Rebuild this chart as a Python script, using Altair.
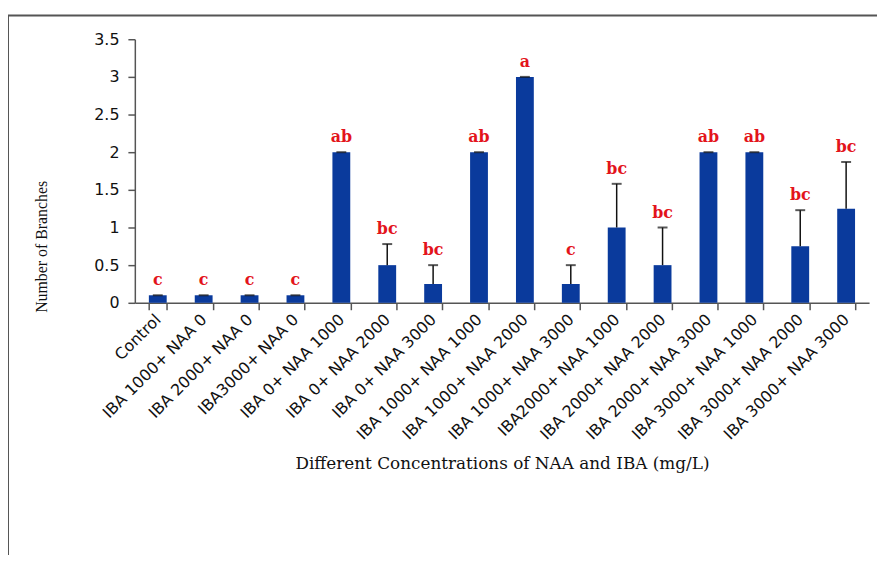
import altair as alt
import pandas as pd

treatments = ["Control", "IBA 1000+ NAA 0", "IBA 2000+ NAA 0", "IBA3000+ NAA 0",
              "IBA 0+ NAA 1000", "IBA 0+ NAA 2000", "IBA 0+ NAA 3000",
              "IBA 1000+ NAA 1000", "IBA 1000+ NAA 2000", "IBA 1000+ NAA 3000",
              "IBA2000+ NAA 1000", "IBA 2000+ NAA 2000", "IBA 2000+ NAA 3000",
              "IBA 3000+ NAA 1000", "IBA 3000+ NAA 2000", "IBA 3000+ NAA 3000"]
means = [0.1, 0.1, 0.1, 0.1, 2, 0.5, 0.25, 2, 3, 0.25, 1, 0.5, 2, 2, 0.75, 1.25]
errors = [0, 0, 0, 0, 0, 0.28, 0.25, 0, 0, 0.25, 0.58, 0.5, 0, 0, 0.48, 0.62]
letters = ["c", "c", "c", "c", "ab", "bc", "bc", "ab", "a", "c", "bc", "bc", "ab", "ab", "bc", "bc"]
y_ticks = [0, 0.5, 1, 1.5, 2, 2.5, 3, 3.5]

df = pd.DataFrame({"t": treatments, "m": means, "e": errors, "g": letters})
df["top"] = df["m"] + df["e"]

W, H = 741, 266

x = alt.X("t:N", sort=treatments, title="Different Concentrations of NAA and IBA (mg/L)",
          scale=alt.Scale(paddingInner=0.6, paddingOuter=0.3),
          axis=alt.Axis(labelAngle=-45, labelAlign="right", labelBaseline="middle",
                        labelFont="DejaVu Sans", labelFontSize=16, labelColor="#111",
                        labelPadding=7, tickBand="extent", tickSize=7, tickColor="#555",
                        domainColor="#555", domainWidth=1.5, tickWidth=1.5,
                        titleFont="DejaVu Serif", titleFontSize=17, titleFontWeight="normal",
                        titleColor="#111", titleY=162, titleBaseline="middle"))
y_axis = alt.Axis(values=y_ticks, format="~g", grid=False, labelOverlap=False,
                  labelFont="DejaVu Sans", labelFontSize=16, labelColor="#111",
                  labelPadding=9, tickSize=7, tickColor="#555", tickWidth=1.5,
                  domainColor="#555", domainWidth=1.5,
                  titleFont="Liberation Serif", titleFontSize=16, titleFontWeight="normal",
                  titleColor="#111", titleX=-94, titleY=209, titleBaseline="middle",
                  titleAlign="center")
yscale = alt.Scale(domain=[0, 3.5], nice=False)
ytitle = "Number of Branches"

base = alt.Chart(df)

bars = base.mark_bar(color="#0A3A9C", size=18).encode(
    x=x, y=alt.Y("m:Q", scale=yscale, axis=y_axis, title=ytitle))

err = base.mark_rule(color="#111", strokeWidth=1.5).transform_filter("datum.e > 0").encode(
    x=alt.X("t:N", sort=treatments),
    y=alt.Y("m:Q", scale=yscale, axis=y_axis, title=ytitle), y2="top:Q")

caps = base.mark_tick(color="#111", orient="horizontal", size=10, thickness=2).encode(
    x=alt.X("t:N", sort=treatments),
    y=alt.Y("top:Q", scale=yscale, axis=y_axis, title=ytitle))

labs = base.mark_text(color="#E3141B", font="DejaVu Serif", fontWeight="bold", fontSize=16,
                      baseline="bottom", dy=-7).encode(
    x=alt.X("t:N", sort=treatments),
    y=alt.Y("top:Q", scale=yscale, axis=y_axis, title=ytitle), text="g:N")

frame = alt.Chart(alt.Data(values=[{}])).mark_rect(
    fill="transparent", stroke="#555", strokeWidth=2).encode(
    x=alt.value(-128), x2=alt.value(W + 40), y=alt.value(-24), y2=alt.value(H + 400))

chart = alt.layer(frame, bars, err, caps, labs).properties(
    width=W, height=H,
    autosize=alt.AutoSizeParams(type="none"),
    padding={"left": 128, "top": 29, "right": 8, "bottom": 252},
).configure_view(stroke=None)

chart.save("out.html", embed_options={"renderer": "svg", "actions": False})
